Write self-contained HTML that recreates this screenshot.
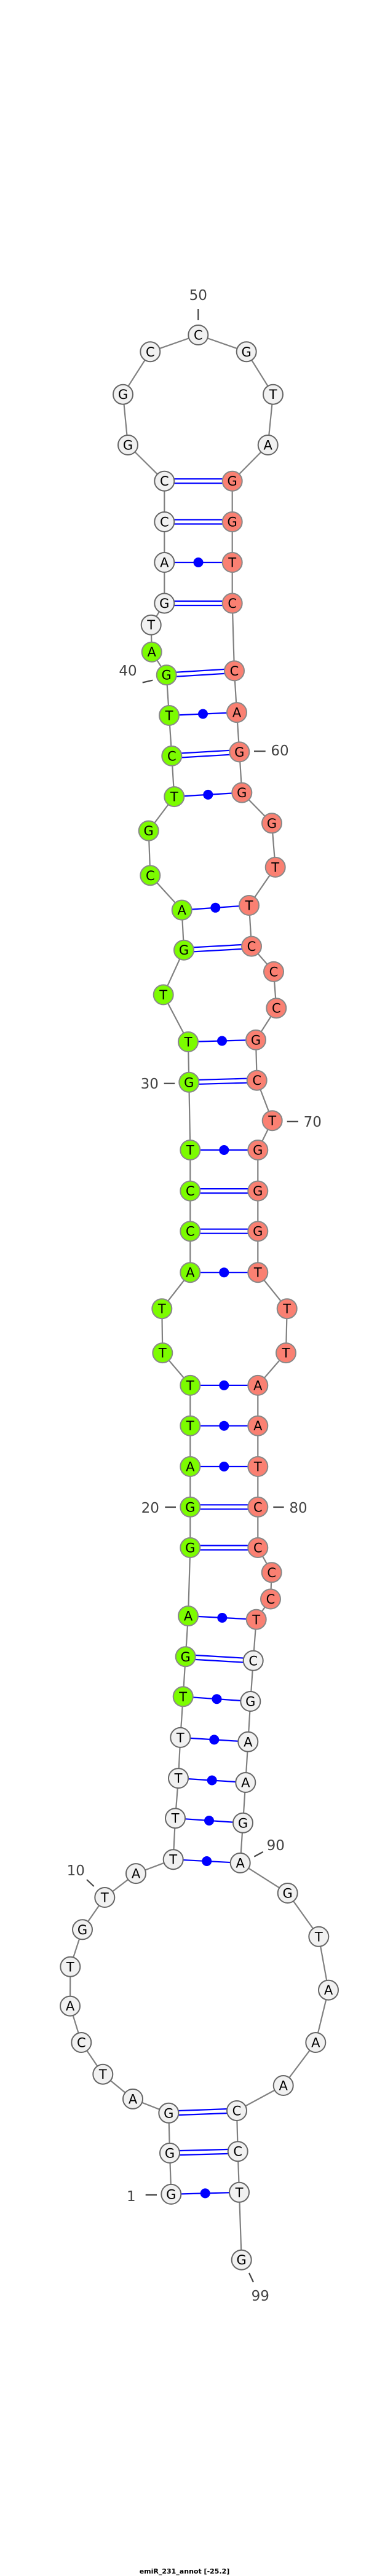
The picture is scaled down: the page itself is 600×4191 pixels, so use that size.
<!DOCTYPE html>
<html><head><meta charset="utf-8"><style>
html,body{margin:0;padding:0;background:#fff}
svg{display:block}
.w{fill:#f1f1f1;stroke:#666;stroke-width:2}
.g{fill:#7cfc00;stroke:#888;stroke-width:2}
.r{fill:#fa8072;stroke:#888;stroke-width:2}
.n{font-family:"DejaVu Sans","Liberation Sans",sans-serif;font-size:21px;text-anchor:middle;fill:#000}
.l{font-family:"DejaVu Sans","Liberation Sans",sans-serif;font-size:23px;text-anchor:middle;fill:#444}
.p{stroke:#00f;stroke-width:2.2}
.t{stroke:#444;stroke-width:2.2}
</style></head><body>
<svg width="600" height="4191" viewBox="0 0 600 4191" xmlns="http://www.w3.org/2000/svg">
<polyline fill="none" stroke="#808080" stroke-width="2.2" points="278.3,3569.9 276,3502.9 274.3,3437.8 216,3414.9 167.3,3374.7 132.3,3323 114,3263.7 114.3,3199.8 134,3139.3 170.3,3087 221,3048.1 281.7,3025.2 285,2958.2 290,2893.1 293.3,2826.9 297.7,2760.3 301.7,2695.3 306,2629.1 309.3,2518 309.3,2451.8 309.3,2386 309.3,2319.7 309.3,2253.9 264.3,2201.1 263.3,2129.2 309.3,2070.2 309.3,2003.2 309.3,1937.6 309.3,1871 307.3,1760.8 306,1695 265.7,1618.4 299,1545.7 295.7,1480.6 244.3,1424.3 241.7,1351.6 283.3,1296.1 279.3,1229.9 275,1164 270.7,1098.2 246.7,1060.7 245.7,1016.7 267.3,981.5 267.3,915 267.3,849 267.3,782.7 208,724 200,641.7 244.3,572.3 322.3,545 400.7,572.3 444,641.7 435.7,724 377.7,782.7 377.7,849 377.7,915 377.7,981.5 381,1091.4 385,1159.1 389.3,1223.4 393.3,1289.6 442,1339.3 447.7,1410.9 405,1473 409,1539.6 445,1580.9 449.3,1640.2 416,1691.9 417.7,1757.7 442.7,1823.2 419.3,1871 419.3,1937.6 419.3,2003.2 419.3,2070.2 466.7,2129.2 465,2201.1 419.3,2253.9 419.3,2319.7 419.3,2386 419.3,2451.8 419.3,2518 441.7,2558.3 440,2601.5 416.7,2634.8 411.7,2701.8 407.3,2768 403.3,2833.8 399.3,2900 395,2965.8 390.7,3030.9 467.7,3080 518.3,3150.8 534,3237.7 513.3,3323 460.7,3393 385,3434 386.7,3500.2 389,3566.8 392.7,3676.7"/>
<!-- tick marks -->
<line class="t" x1="322.3" y1="503" x2="322.3" y2="521"/>
<line class="t" x1="231.7" y1="1110.5" x2="248.3" y2="1106.7"/>
<line class="t" x1="413" y1="1222.2" x2="431.7" y2="1222.2"/>
<line class="t" x1="266.7" y1="1762.7" x2="284.3" y2="1762.7"/>
<line class="t" x1="466.7" y1="1824.7" x2="485" y2="1824.7"/>
<line class="t" x1="268.3" y1="2452" x2="286" y2="2452"/>
<line class="t" x1="444.3" y1="2452" x2="461.7" y2="2452"/>
<line class="t" x1="413.3" y1="3020.6" x2="427.7" y2="3012.9"/>
<line class="t" x1="141" y1="3058" x2="152.7" y2="3069"/>
<line class="t" x1="236.7" y1="3571" x2="255" y2="3571"/>
<line class="t" x1="405" y1="3698" x2="412" y2="3713"/>
<!-- double pairs (GC) -->
<g class="p">
<line x1="278" y1="3434.5" x2="385" y2="3430.5"/><line x1="278" y1="3441.5" x2="385" y2="3437.5"/>
<line x1="276" y1="3499.5" x2="387" y2="3496.5"/><line x1="276" y1="3506.5" x2="387" y2="3503.5"/>
<line x1="301.7" y1="2692" x2="411.7" y2="2698.5"/><line x1="301.7" y1="2699" x2="411.7" y2="2705.5"/>
<line x1="309.3" y1="2514.5" x2="419.3" y2="2514.5"/><line x1="309.3" y1="2521.5" x2="419.3" y2="2521.5"/>
<line x1="309.3" y1="2448.3" x2="419.3" y2="2448.3"/><line x1="309.3" y1="2455.3" x2="419.3" y2="2455.3"/>
<line x1="309.3" y1="1999.7" x2="419.3" y2="1999.7"/><line x1="309.3" y1="2006.7" x2="419.3" y2="2006.7"/>
<line x1="309.3" y1="1934.1" x2="419.3" y2="1934.1"/><line x1="309.3" y1="1941.1" x2="419.3" y2="1941.1"/>
<line x1="307.3" y1="1757.3" x2="417.7" y2="1754.2"/><line x1="307.3" y1="1764.3" x2="417.7" y2="1761.2"/>
<line x1="299" y1="1542.2" x2="409" y2="1536.1"/><line x1="299" y1="1549.2" x2="409" y2="1543.1"/>
<line x1="279.3" y1="1226.4" x2="389.3" y2="1219.9"/><line x1="279.3" y1="1233.4" x2="389.3" y2="1226.9"/>
<line x1="270.7" y1="1094.7" x2="381" y2="1087.9"/><line x1="270.7" y1="1101.7" x2="381" y2="1094.9"/>
<line x1="267.3" y1="978" x2="377.7" y2="978"/><line x1="267.3" y1="985" x2="377.7" y2="985"/>
<line x1="267.3" y1="845.5" x2="377.7" y2="845.5"/><line x1="267.3" y1="852.5" x2="377.7" y2="852.5"/>
<line x1="267.3" y1="779.2" x2="377.7" y2="779.2"/><line x1="267.3" y1="786.2" x2="377.7" y2="786.2"/>
</g>
<!-- single pairs with dot -->
<g class="p">
<line x1="278.3" y1="3569.9" x2="389" y2="3566.8"/>
<line x1="281.7" y1="3025.2" x2="390.7" y2="3030.9"/>
<line x1="285" y1="2958.2" x2="395" y2="2965.8"/>
<line x1="290" y1="2893.1" x2="399.3" y2="2900"/>
<line x1="293.3" y1="2826.9" x2="403.3" y2="2833.8"/>
<line x1="297.7" y1="2760.3" x2="407.3" y2="2768"/>
<line x1="306" y1="2629.1" x2="416.7" y2="2634.8"/>
<line x1="309.3" y1="2386" x2="419.3" y2="2386"/>
<line x1="309.3" y1="2319.7" x2="419.3" y2="2319.7"/>
<line x1="309.3" y1="2253.9" x2="419.3" y2="2253.9"/>
<line x1="309.3" y1="2070.2" x2="419.3" y2="2070.2"/>
<line x1="309.3" y1="1871" x2="419.3" y2="1871"/>
<line x1="306" y1="1695" x2="416" y2="1691.9"/>
<line x1="295.7" y1="1480.6" x2="405" y2="1473"/>
<line x1="283.3" y1="1296.1" x2="393.3" y2="1289.6"/>
<line x1="275" y1="1164" x2="385" y2="1159.1"/>
<line x1="267.3" y1="915" x2="377.7" y2="915"/>
</g>
<g fill="#00f">
<circle cx="333.7" cy="3568.4" r="8"/>
<circle cx="336.2" cy="3028" r="8"/>
<circle cx="340" cy="2962" r="8"/>
<circle cx="344.7" cy="2896.5" r="8"/>
<circle cx="348.3" cy="2830.4" r="8"/>
<circle cx="352.5" cy="2764.2" r="8"/>
<circle cx="361.3" cy="2632" r="8"/>
<circle cx="364.3" cy="2386" r="8"/>
<circle cx="364.3" cy="2319.7" r="8"/>
<circle cx="364.3" cy="2253.9" r="8"/>
<circle cx="364.3" cy="2070.2" r="8"/>
<circle cx="364.3" cy="1871" r="8"/>
<circle cx="361" cy="1693.5" r="8"/>
<circle cx="350.3" cy="1476.8" r="8"/>
<circle cx="338.3" cy="1292.9" r="8"/>
<circle cx="330" cy="1161.5" r="8"/>
<circle cx="322.5" cy="915" r="8"/>
</g>
<!-- nodes -->
<g>
<circle class="w" cx="278.3" cy="3569.9" r="16"/>
<circle class="w" cx="276" cy="3502.9" r="16"/>
<circle class="w" cx="274.3" cy="3437.8" r="16"/>
<circle class="w" cx="216" cy="3414.9" r="16"/>
<circle class="w" cx="167.3" cy="3374.7" r="16"/>
<circle class="w" cx="132.3" cy="3323" r="16"/>
<circle class="w" cx="114" cy="3263.7" r="16"/>
<circle class="w" cx="114.3" cy="3199.8" r="16"/>
<circle class="w" cx="134" cy="3139.3" r="16"/>
<circle class="w" cx="170.3" cy="3087" r="16"/>
<circle class="w" cx="221" cy="3048.1" r="16"/>
<circle class="w" cx="281.7" cy="3025.2" r="16"/>
<circle class="w" cx="285" cy="2958.2" r="16"/>
<circle class="w" cx="290" cy="2893.1" r="16"/>
<circle class="w" cx="293.3" cy="2826.9" r="16"/>
<circle class="g" cx="297.7" cy="2760.3" r="16"/>
<circle class="g" cx="301.7" cy="2695.3" r="16"/>
<circle class="g" cx="306" cy="2629.1" r="16"/>
<circle class="g" cx="309.3" cy="2518" r="16"/>
<circle class="g" cx="309.3" cy="2451.8" r="16"/>
<circle class="g" cx="309.3" cy="2386" r="16"/>
<circle class="g" cx="309.3" cy="2319.7" r="16"/>
<circle class="g" cx="309.3" cy="2253.9" r="16"/>
<circle class="g" cx="264.3" cy="2201.1" r="16"/>
<circle class="g" cx="263.3" cy="2129.2" r="16"/>
<circle class="g" cx="309.3" cy="2070.2" r="16"/>
<circle class="g" cx="309.3" cy="2003.2" r="16"/>
<circle class="g" cx="309.3" cy="1937.6" r="16"/>
<circle class="g" cx="309.3" cy="1871" r="16"/>
<circle class="g" cx="307.3" cy="1760.8" r="16"/>
<circle class="g" cx="306" cy="1695" r="16"/>
<circle class="g" cx="265.7" cy="1618.4" r="16"/>
<circle class="g" cx="299" cy="1545.7" r="16"/>
<circle class="g" cx="295.7" cy="1480.6" r="16"/>
<circle class="g" cx="244.3" cy="1424.3" r="16"/>
<circle class="g" cx="241.7" cy="1351.6" r="16"/>
<circle class="g" cx="283.3" cy="1296.1" r="16"/>
<circle class="g" cx="279.3" cy="1229.9" r="16"/>
<circle class="g" cx="275" cy="1164" r="16"/>
<circle class="g" cx="270.7" cy="1098.2" r="16"/>
<circle class="g" cx="246.7" cy="1060.7" r="16"/>
<circle class="w" cx="245.7" cy="1016.7" r="16"/>
<circle class="w" cx="267.3" cy="981.5" r="16"/>
<circle class="w" cx="267.3" cy="915" r="16"/>
<circle class="w" cx="267.3" cy="849" r="16"/>
<circle class="w" cx="267.3" cy="782.7" r="16"/>
<circle class="w" cx="208" cy="724" r="16"/>
<circle class="w" cx="200" cy="641.7" r="16"/>
<circle class="w" cx="244.3" cy="572.3" r="16"/>
<circle class="w" cx="322.3" cy="545" r="16"/>
<circle class="w" cx="400.7" cy="572.3" r="16"/>
<circle class="w" cx="444" cy="641.7" r="16"/>
<circle class="w" cx="435.7" cy="724" r="16"/>
<circle class="r" cx="377.7" cy="782.7" r="16"/>
<circle class="r" cx="377.7" cy="849" r="16"/>
<circle class="r" cx="377.7" cy="915" r="16"/>
<circle class="r" cx="377.7" cy="981.5" r="16"/>
<circle class="r" cx="381" cy="1091.4" r="16"/>
<circle class="r" cx="385" cy="1159.1" r="16"/>
<circle class="r" cx="389.3" cy="1223.4" r="16"/>
<circle class="r" cx="393.3" cy="1289.6" r="16"/>
<circle class="r" cx="442" cy="1339.3" r="16"/>
<circle class="r" cx="447.7" cy="1410.9" r="16"/>
<circle class="r" cx="405" cy="1473" r="16"/>
<circle class="r" cx="409" cy="1539.6" r="16"/>
<circle class="r" cx="445" cy="1580.9" r="16"/>
<circle class="r" cx="449.3" cy="1640.2" r="16"/>
<circle class="r" cx="416" cy="1691.9" r="16"/>
<circle class="r" cx="417.7" cy="1757.7" r="16"/>
<circle class="r" cx="442.7" cy="1823.2" r="16"/>
<circle class="r" cx="419.3" cy="1871" r="16"/>
<circle class="r" cx="419.3" cy="1937.6" r="16"/>
<circle class="r" cx="419.3" cy="2003.2" r="16"/>
<circle class="r" cx="419.3" cy="2070.2" r="16"/>
<circle class="r" cx="466.7" cy="2129.2" r="16"/>
<circle class="r" cx="465" cy="2201.1" r="16"/>
<circle class="r" cx="419.3" cy="2253.9" r="16"/>
<circle class="r" cx="419.3" cy="2319.7" r="16"/>
<circle class="r" cx="419.3" cy="2386" r="16"/>
<circle class="r" cx="419.3" cy="2451.8" r="16"/>
<circle class="r" cx="419.3" cy="2518" r="16"/>
<circle class="r" cx="441.7" cy="2558.3" r="16"/>
<circle class="r" cx="440" cy="2601.5" r="16"/>
<circle class="r" cx="416.7" cy="2634.8" r="16"/>
<circle class="w" cx="411.7" cy="2701.8" r="16"/>
<circle class="w" cx="407.3" cy="2768" r="16"/>
<circle class="w" cx="403.3" cy="2833.8" r="16"/>
<circle class="w" cx="399.3" cy="2900" r="16"/>
<circle class="w" cx="395" cy="2965.8" r="16"/>
<circle class="w" cx="390.7" cy="3030.9" r="16"/>
<circle class="w" cx="467.7" cy="3080" r="16"/>
<circle class="w" cx="518.3" cy="3150.8" r="16"/>
<circle class="w" cx="534" cy="3237.7" r="16"/>
<circle class="w" cx="513.3" cy="3323" r="16"/>
<circle class="w" cx="460.7" cy="3393" r="16"/>
<circle class="w" cx="385" cy="3434" r="16"/>
<circle class="w" cx="386.7" cy="3500.2" r="16"/>
<circle class="w" cx="389" cy="3566.8" r="16"/>
<circle class="w" cx="392.7" cy="3676.7" r="16"/>
</g>
<g class="n">
<text x="278.3" y="3577.4">G</text>
<text x="276" y="3510.4">G</text>
<text x="274.3" y="3445.3">G</text>
<text x="216" y="3422.4">A</text>
<text x="167.3" y="3382.2">T</text>
<text x="132.3" y="3330.5">C</text>
<text x="114" y="3271.2">A</text>
<text x="114.3" y="3207.3">T</text>
<text x="134" y="3146.8">G</text>
<text x="170.3" y="3094.5">T</text>
<text x="221" y="3055.6">A</text>
<text x="281.7" y="3032.7">T</text>
<text x="285" y="2965.7">T</text>
<text x="290" y="2900.6">T</text>
<text x="293.3" y="2834.4">T</text>
<text x="297.7" y="2767.8">T</text>
<text x="301.7" y="2702.8">G</text>
<text x="306" y="2636.6">A</text>
<text x="309.3" y="2525.5">G</text>
<text x="309.3" y="2459.3">G</text>
<text x="309.3" y="2393.5">A</text>
<text x="309.3" y="2327.2">T</text>
<text x="309.3" y="2261.4">T</text>
<text x="264.3" y="2208.6">T</text>
<text x="263.3" y="2136.7">T</text>
<text x="309.3" y="2077.7">A</text>
<text x="309.3" y="2010.7">C</text>
<text x="309.3" y="1945.1">C</text>
<text x="309.3" y="1878.5">T</text>
<text x="307.3" y="1768.3">G</text>
<text x="306" y="1702.5">T</text>
<text x="265.7" y="1625.9">T</text>
<text x="299" y="1553.2">G</text>
<text x="295.7" y="1488.1">A</text>
<text x="244.3" y="1431.8">C</text>
<text x="241.7" y="1359.1">G</text>
<text x="283.3" y="1303.6">T</text>
<text x="279.3" y="1237.4">C</text>
<text x="275" y="1171.5">T</text>
<text x="270.7" y="1105.7">G</text>
<text x="246.7" y="1068.2">A</text>
<text x="245.7" y="1024.2">T</text>
<text x="267.3" y="989">G</text>
<text x="267.3" y="922.5">A</text>
<text x="267.3" y="856.5">C</text>
<text x="267.3" y="790.2">C</text>
<text x="208" y="731.5">G</text>
<text x="200" y="649.2">G</text>
<text x="244.3" y="579.8">C</text>
<text x="322.3" y="552.5">C</text>
<text x="400.7" y="579.8">G</text>
<text x="444" y="649.2">T</text>
<text x="435.7" y="731.5">A</text>
<text x="377.7" y="790.2">G</text>
<text x="377.7" y="856.5">G</text>
<text x="377.7" y="922.5">T</text>
<text x="377.7" y="989">C</text>
<text x="381" y="1098.9">C</text>
<text x="385" y="1166.6">A</text>
<text x="389.3" y="1230.9">G</text>
<text x="393.3" y="1297.1">G</text>
<text x="442" y="1346.8">G</text>
<text x="447.7" y="1418.4">T</text>
<text x="405" y="1480.5">T</text>
<text x="409" y="1547.1">C</text>
<text x="445" y="1588.4">C</text>
<text x="449.3" y="1647.7">C</text>
<text x="416" y="1699.4">G</text>
<text x="417.7" y="1765.2">C</text>
<text x="442.7" y="1830.7">T</text>
<text x="419.3" y="1878.5">G</text>
<text x="419.3" y="1945.1">G</text>
<text x="419.3" y="2010.7">G</text>
<text x="419.3" y="2077.7">T</text>
<text x="466.7" y="2136.7">T</text>
<text x="465" y="2208.6">T</text>
<text x="419.3" y="2261.4">A</text>
<text x="419.3" y="2327.2">A</text>
<text x="419.3" y="2393.5">T</text>
<text x="419.3" y="2459.3">C</text>
<text x="419.3" y="2525.5">C</text>
<text x="441.7" y="2565.8">C</text>
<text x="440" y="2609">C</text>
<text x="416.7" y="2642.3">T</text>
<text x="411.7" y="2709.3">C</text>
<text x="407.3" y="2775.5">G</text>
<text x="403.3" y="2841.3">A</text>
<text x="399.3" y="2907.5">A</text>
<text x="395" y="2973.3">G</text>
<text x="390.7" y="3038.4">A</text>
<text x="467.7" y="3087.5">G</text>
<text x="518.3" y="3158.3">T</text>
<text x="534" y="3245.2">A</text>
<text x="513.3" y="3330.5">A</text>
<text x="460.7" y="3400.5">A</text>
<text x="385" y="3441.5">C</text>
<text x="386.7" y="3507.7">C</text>
<text x="389" y="3574.3">T</text>
<text x="392.7" y="3684.2">G</text>
</g>
<g class="l">
<text x="322.3" y="488">50</text>
<text x="208" y="1099">40</text>
<text x="455" y="1229">60</text>
<text x="243.3" y="1771">30</text>
<text x="508.3" y="1833">70</text>
<text x="244.3" y="2461">20</text>
<text x="485" y="2461">80</text>
<text x="448.3" y="3010">90</text>
<text x="123.3" y="3051">10</text>
<text x="213.3" y="3581">1</text>
<text x="423.3" y="3743">99</text>
</g>
<text x="300" y="4187" font-family="DejaVu Sans, Liberation Sans, sans-serif" font-size="11" font-weight="bold" text-anchor="middle" fill="#000">emiR_231_annot [-25.2]</text>
</svg>
</body></html>
